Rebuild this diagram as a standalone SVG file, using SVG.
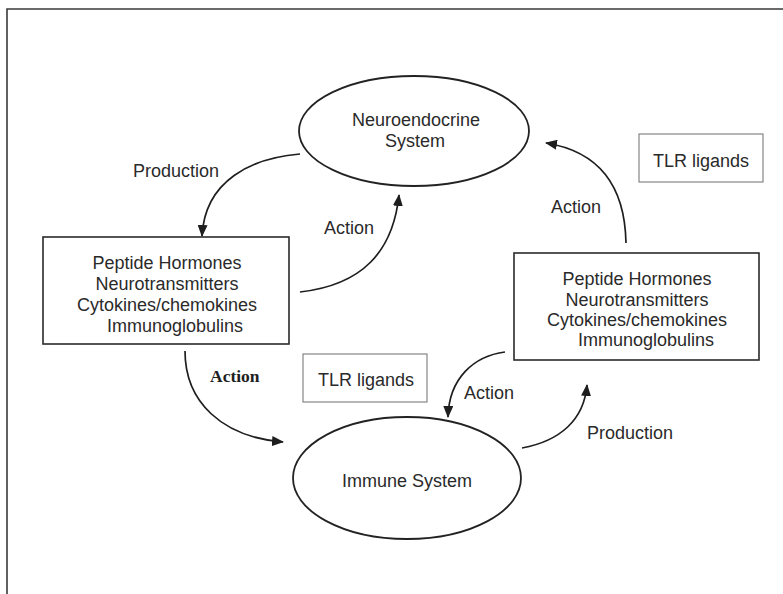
<svg xmlns="http://www.w3.org/2000/svg" width="783" height="594" viewBox="0 0 783 594">
  <defs>
    <marker id="arrow" viewBox="0 0 12 10" refX="11" refY="5" markerWidth="12" markerHeight="10" markerUnits="userSpaceOnUse" orient="auto">
      <path d="M0,0 L12,5 L0,10 Z" fill="#1e1e1e"/>
    </marker>
    <style>
      .frame { fill: none; stroke: #3a3a3a; stroke-width: 1.6; }
      .oval { fill: #ffffff; stroke: #222222; stroke-width: 1.8; }
      .box { fill: #ffffff; stroke: #2a2a2a; stroke-width: 1.6; }
      .tlr { fill: #ffffff; stroke: #7a7a7a; stroke-width: 1.1; }
      .conn { fill: none; stroke: #1e1e1e; stroke-width: 1.7; marker-end: url(#arrow); }
      text { font-family: "Liberation Sans", Arial, Helvetica, sans-serif; font-size: 18px; fill: #2a2a2a; }
      .mid { text-anchor: middle; }
      .bold { font-family: "Liberation Serif", "Times New Roman", serif; font-weight: bold; font-size: 17.5px; fill: #1e1e1e; }
    </style>
  </defs>

  <rect width="783" height="594" fill="#ffffff"/>

  <!-- outer frame: top and left edges only -->
  <path class="frame" d="M783,9 H7 V594"/>

  <!-- connectors -->
  <g id="connectors">
    <path class="conn" d="M300,154 C252,158 205,180 202,236"/>
    <path class="conn" d="M300,292 C362,285 393,252 399,195"/>
    <path class="conn" d="M626,243 C625,190 602,152 546,143"/>
    <path class="conn" d="M185,351 C185,402 222,437 283,442"/>
    <path class="conn" d="M505,352 C474,356 449,378 448,417"/>
    <path class="conn" d="M522,448 C560,441 584,420 587,385"/>
  </g>

  <!-- connector labels -->
  <g id="labels">
    <text x="133" y="177">Production</text>
    <text x="324" y="234">Action</text>
    <text x="551" y="213">Action</text>
    <text class="bold" x="210" y="382">Action</text>
    <text x="464" y="399">Action</text>
    <text x="587" y="439">Production</text>
  </g>

  <g id="neuroendocrine">
    <ellipse class="oval" cx="414" cy="131" rx="115" ry="55"/>
    <text class="mid" x="416" y="126">Neuroendocrine</text>
    <text class="mid" x="415" y="147">System</text>
  </g>

  <g id="immune">
    <ellipse class="oval" cx="407" cy="478" rx="114" ry="61"/>
    <text class="mid" x="407" y="487">Immune System</text>
  </g>

  <g id="mediators-left">
    <rect class="box" x="43" y="237" width="246" height="107"/>
    <text class="mid" x="167" y="269">Peptide Hormones</text>
    <text class="mid" x="167" y="290">Neurotransmitters</text>
    <text class="mid" x="167" y="311">Cytokines/chemokines</text>
    <text class="mid" x="175" y="332">Immunoglobulins</text>
  </g>

  <g id="mediators-right">
    <rect class="box" x="514" y="253" width="245" height="107"/>
    <text class="mid" x="637" y="285">Peptide Hormones</text>
    <text class="mid" x="637" y="306">Neurotransmitters</text>
    <text class="mid" x="637" y="326">Cytokines/chemokines</text>
    <text class="mid" x="646" y="346">Immunoglobulins</text>
  </g>

  <g id="tlr-upper">
    <rect class="tlr" x="639" y="134" width="124" height="48"/>
    <text class="mid" x="701" y="167">TLR ligands</text>
  </g>

  <g id="tlr-lower">
    <rect class="tlr" x="303" y="354" width="124" height="48"/>
    <text class="mid" x="366" y="386">TLR ligands</text>
  </g>
</svg>
